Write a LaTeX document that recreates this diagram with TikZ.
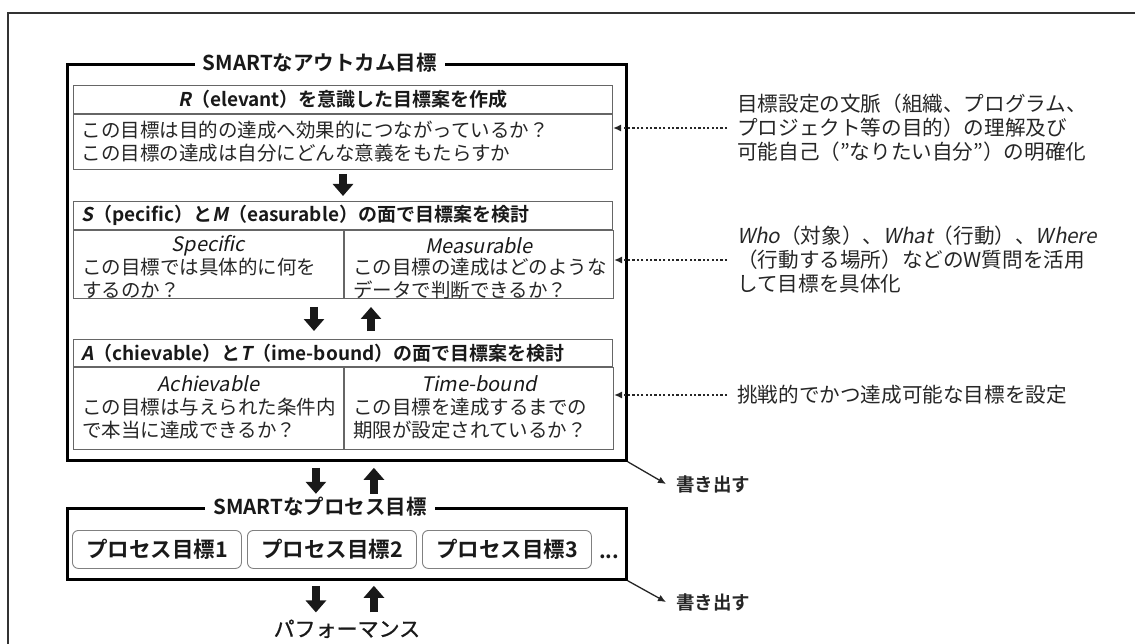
\documentclass[tikz,border=0pt]{standalone}
\usepackage{fontspec}
\setmainfont{Noto Sans CJK JP}[BoldFont={Noto Sans CJK JP Bold}, ItalicFont={Noto Sans CJK JP}, ItalicFeatures={FakeSlant=0.2}, BoldItalicFont={Noto Sans CJK JP Bold}, BoldItalicFeatures={FakeSlant=0.2}]
\newfontfamily\medjp{Noto Sans CJK JP}[FakeBold=1]
\usetikzlibrary{arrows.meta,calc}
\newcommand\fszbody{\fontsize{19.5}{23}\selectfont}
\newcommand\fszhead{\fontsize{19}{22}\selectfont\bfseries}
\newcommand\fsztitle{\fontsize{20.5}{24}\selectfont\bfseries}
\newcommand\fszann{\fontsize{20.6}{24}\selectfont}
\tikzset{
  framestyle/.style={line width=2pt, draw=black!80},
  outbox/.style={draw=black, line width=2.8pt, inner sep=0pt},
  titlebox/.style={fill=white, font=\fsztitle, inner xsep=8pt, inner ysep=0pt, text=black!90},
  hbox/.style={draw=black!60, line width=1pt, inner sep=0pt, font=\fszhead, text=black!90},
  colbox/.style={draw=black!60, line width=1pt, inner sep=0pt},
  coltitle/.style={font=\fontsize{20}{23}\selectfont\itshape, inner sep=0pt, text=black!90},
  coltext/.style={font=\fszbody, align=left, inner sep=0pt, text=black!85},
  ann/.style={font=\fszann, align=left, inner sep=0pt, text=black!85},
  dotarr/.style={line width=2.2pt, dash pattern=on 2.2pt off 2.2pt, black!85, -{Latex[length=8pt,width=7pt]}},
  sarr/.style={line width=1.3pt, black!85, -{Latex[length=8pt,width=7pt]}},
  barrow/.style={line width=8pt, black!90, -{Triangle[length=12pt,width=20pt]}},
  pbox/.style={draw=black!50, line width=0.9pt, rounded corners=6pt, inner sep=0pt, font=\fontsize{21.5}{24}\selectfont\bfseries, text=black!90},
  kaki/.style={font=\fontsize{18.5}{21}\selectfont\bfseries, inner sep=0pt, text=black!85},
}
\begin{document}
\begin{tikzpicture}[x=1pt,y=-1pt]
\useasboundingbox (0,0) rectangle (1135,644);
% outer frame
\draw[framestyle] (8,644) -- (8,13) -- (1135,13);

% outcome box
\node[outbox, anchor=north west, minimum width=559pt, minimum height=396pt] (out) at (66,63) {};
\node[titlebox] (outT) at ($(out.north)+(-27,0)$) {SMARTなアウトカム目標};

% R
\node[hbox, anchor=north west, minimum width=539pt, minimum height=28pt] (rh) at (73,85) {\textit{R}（elevant）を意識した目標案を作成};
\node[colbox, anchor=north west, minimum width=539pt, minimum height=55pt, text width=523pt, inner xsep=8pt, align=left, font=\fszbody, text=black!85] (rb) at (rh.south west) {この目標は目的の達成へ効果的につながっているか？\\この目標の達成は自分にどんな意義をもたらすか};

% S/M
\node[hbox, anchor=north west, minimum width=539pt, minimum height=28pt, text width=523pt, inner xsep=8pt, align=left] (smh) at (73,201) {\textit{S}（pecific）と\textit{M}（easurable）の面で目標案を検討};
\node[colbox, anchor=north west, minimum width=270pt, minimum height=68pt] (smL) at (smh.south west) {};
\node[colbox, anchor=north west, minimum width=269pt, minimum height=68pt] (smR) at (smL.north east) {};
\node[coltitle] (specT) at ($(smL.north)+(0,16)$) {Specific};
\node[coltext, anchor=north west] (specB) at ($(smL.north west)+(9,27.5)$) {この目標では具体的に何を\\するのか？};
\node[coltitle] (measT) at ($(smR.north)+(0,16)$) {Measurable};
\node[coltext, anchor=north west] (measB) at ($(smR.north west)+(9,27.5)$) {この目標の達成はどのような\\データで判断できるか？};

% A/T
\node[hbox, anchor=north west, minimum width=539pt, minimum height=27pt, text width=523pt, inner xsep=8pt, align=left] (ath) at (73,339) {\textit{A}（chievable）と\textit{T}（ime-bound）の面で目標案を検討};
\node[colbox, anchor=north west, minimum width=270pt, minimum height=82pt] (atL) at (ath.south west) {};
\node[colbox, anchor=north west, minimum width=269pt, minimum height=82pt] (atR) at (atL.north east) {};
\node[coltitle] (achT) at ($(atL.north)+(0,17)$) {Achievable};
\node[coltext, anchor=north west] (achB) at ($(atL.north west)+(9,30.5)$) {この目標は与えられた条件内\\で本当に達成できるか？};
\node[coltitle] (timeT) at ($(atR.north)+(0,17)$) {Time-bound};
\node[coltext, anchor=north west] (timeB) at ($(atR.north west)+(9,30.5)$) {この目標を達成するまでの\\期限が設定されているか？};

% block arrows inside
\draw[barrow] ($(rb.south)+(0,4)$) -- ($(smh.north)+(0,-5)$);
\draw[barrow] ($(smL.south east)+(-30,8)$) -- ($(smL.south east |- ath.north)+(-30,-8)$);
\draw[barrow] ($(smL.south east |- ath.north)+(27,-8)$) -- ($(smL.south east)+(27,8)$);

% process box
\node[outbox, anchor=north west, minimum width=559pt, minimum height=71pt] (proc) at (66,507) {};
\node[titlebox] (procT) at ($(proc.north)+(-27,0)$) {SMARTなプロセス目標};
\node[pbox, anchor=north west, minimum width=169pt, minimum height=38pt] (p1) at (72,530) {プロセス目標1};
\node[pbox, anchor=north west, minimum width=169pt, minimum height=38pt] (p2) at (247,530) {プロセス目標2};
\node[pbox, anchor=north west, minimum width=169pt, minimum height=38pt] (p3) at (422,530) {プロセス目標3};
\node[font=\fsztitle, inner sep=0pt, text=black!90] (dots) at (609,557) {...};

% arrows between boxes
\draw[barrow] ($(out.south)+(-31,6)$) -- ($(out.south)+(-31,32)$);
\draw[barrow] ($(out.south)+(27,32)$) -- ($(out.south)+(27,6)$);
\node[font=\fontsize{21}{24}\selectfont\medjp, inner sep=0pt, text=black!90] (perf) at ($(proc.south)+(0,48)$) {パフォーマンス};
\draw[barrow] ($(proc.south)+(-31,5)$) -- ($(perf.north)+(-31,-7)$);
\draw[barrow] ($(perf.north)+(27,-7)$) -- ($(proc.south)+(27,5)$);

% annotations
\node[ann, anchor=west] (a1) at (737,128) {目標設定の文脈（組織、プログラム、\\プロジェクト等の目的）の理解及び\\可能自己（”なりたい自分”）の明確化};
\node[ann, anchor=west] (a2) at (737,260) {\textit{Who}（対象）、\textit{What}（行動）、\textit{Where}\\（行動する場所）などのW質問を活用\\して目標を具体化};
\node[ann, anchor=west] (a3) at (737,395) {挑戦的でかつ達成可能な目標を設定};
\draw[dotarr] ([xshift=-10pt]a1.west) -- (rb.east |- a1.west);
\draw[dotarr] ([xshift=-10pt]a2.west) -- (smR.east |- a2.west);
\draw[dotarr] ([xshift=-10pt]a3.west) -- (atR.east |- a3.west);

% write out
\node[kaki, anchor=west] (k1) at (676,484) {書き出す};
\node[kaki, anchor=west] (k2) at (676,602) {書き出す};
\draw[sarr] (out.south east) -- ([xshift=-10pt]k1.west);
\draw[sarr] (proc.south east) -- ([xshift=-10pt]k2.west);
\end{tikzpicture}
\end{document}
